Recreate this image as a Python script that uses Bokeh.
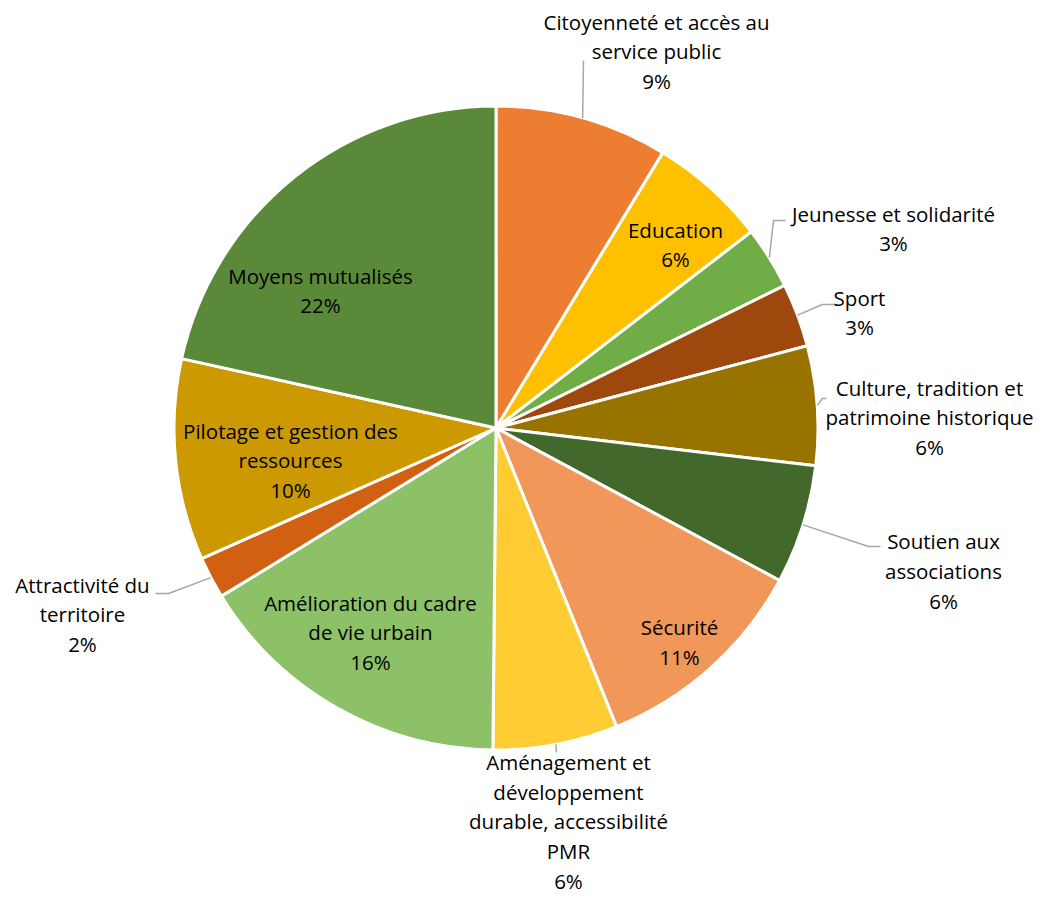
import math
from bokeh.plotting import figure
from bokeh.models import Range1d, ColumnDataSource
from bokeh.core.properties import value
from bokeh.embed import file_html
from bokeh.resources import INLINE

# ---------------- data ----------------
categories = [
    "Citoyenneté et accès au service public",
    "Education",
    "Jeunesse et solidarité",
    "Sport",
    "Culture, tradition et patrimoine historique",
    "Soutien aux associations",
    "Sécurité",
    "Aménagement et développement durable, accessibilité PMR",
    "Amélioration du cadre de vie urbain",
    "Attractivité du territoire",
    "Pilotage et gestion des ressources",
    "Moyens mutualisés",
]
shares = [8.67, 5.90, 3.13, 3.19, 5.98, 5.98, 11.04, 6.26, 16.10, 2.10, 10.10, 21.54]

# wrapped label text (as displayed)
label_text = [
    "Citoyenneté et accès au\nservice public",
    "Education",
    "Jeunesse et solidarité",
    "Sport",
    "Culture, tradition et\npatrimoine historique",
    "Soutien aux\nassociations",
    "Sécurité",
    "Aménagement et\ndéveloppement\ndurable, accessibilité\nPMR",
    "Amélioration du cadre\nde vie urbain",
    "Attractivité du\nterritoire",
    "Pilotage et gestion des\nressources",
    "Moyens mutualisés",
]

colors = ["#ED7D31", "#FFC000", "#70AD47", "#9E480E", "#997300", "#43682B",
          "#F1975A", "#FFCD33", "#8CC168", "#D26012", "#CC9A00", "#5A8A39"]

# ---------------- layout (screen pixels) ----------------
CX, CY, R = 495.5, 427.5, 322.0
label_pos = [(656, 51), (675, 244), (893, 228), (859, 312), (929, 417), (943, 570.5),
             (679, 641.5), (568, 821), (370, 632), (82, 614), (290, 460), (320, 290)]
# leader line waypoints after the slice edge point (None = no leader)
leader_pts = [[(583, 60)], None, [(773, 220), (785, 220)], [(822, 304), (835, 304)],
              [(822, 398), (826, 398)], [(868, 546), (880, 546)], None,
              [(556, 752)], None, [(168, 593), (155, 593)], None, None]

W, H = 1035, 898
p = figure(width=W, height=H, output_backend="svg", toolbar_location=None,
           x_range=Range1d(0, W), y_range=Range1d(-H, 0),
           min_border=0, match_aspect=False)
p.axis.visible = False
p.grid.visible = False
p.outline_line_color = None
p.background_fill_color = "white"
p.border_fill_color = "white"

total = sum(shares)
starts, ends, mids = [], [], []
acc = 0.0
for v in shares:
    a0 = math.pi / 2 - acc / total * 2 * math.pi
    acc += v
    a1 = math.pi / 2 - acc / total * 2 * math.pi
    starts.append(a0)
    ends.append(a1)
    mids.append((a0 + a1) / 2)

src = ColumnDataSource(dict(start=starts, end=ends, color=colors, cat=categories))
p.wedge(x=CX, y=-CY, radius=R, start_angle="start", end_angle="end",
        direction="clock", fill_color="color", line_color="white", line_width=3,
        source=src)

# leader lines
xs, ys = [], []
for m, pts in zip(mids, leader_pts):
    if pts is None:
        continue
    ex, ey = CX + R * math.cos(m), CY - R * math.sin(m)
    xs.append([ex] + [q[0] for q in pts])
    ys.append([-ey] + [-q[1] for q in pts])
p.multi_line(xs=xs, ys=ys, line_color="#A6A6A6", line_width=1.5)

texts = [f"{t}\n{round(v / total * 100)}%" for t, v in zip(label_text, shares)]
p.text(x=[q[0] for q in label_pos], y=[-q[1] for q in label_pos], text=texts,
       text_align="center", text_baseline="middle",
       text_font=value("Open Sans"), text_font_size="20.5px",
       text_line_height=1.06, text_color="#000000")

open("out.html", "w").write(file_html(p, INLINE))
